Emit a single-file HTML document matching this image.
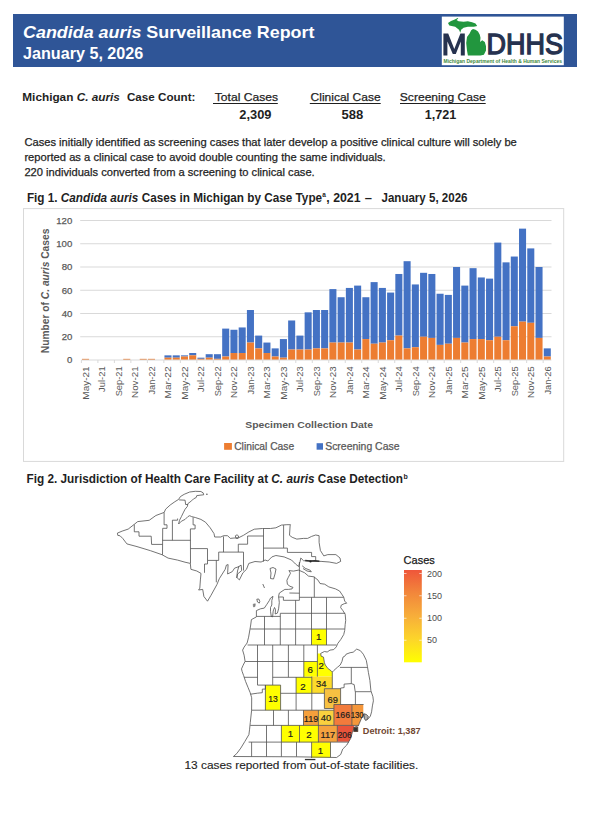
<!DOCTYPE html>
<html><head><meta charset="utf-8"><style>
html,body{margin:0;padding:0;background:#fff;}
svg{display:block;font-family:"Liberation Sans", sans-serif;}
</style></head><body>
<svg width="592" height="815" viewBox="0 0 592 815">
<rect x="0" y="0" width="592" height="815" fill="#ffffff"/>
<rect x="13" y="14" width="564" height="53" fill="#2F5597"/>
<text x="23" y="38.4" font-size="17" font-weight="bold" fill="#ffffff" textLength="291.5" lengthAdjust="spacingAndGlyphs"><tspan font-style="italic">Candida auris</tspan> Surveillance Report</text>
<text x="23.0" y="58.7" font-size="16.6" font-weight="bold" font-style="normal" fill="#ffffff" text-anchor="start" textLength="120.3" lengthAdjust="spacingAndGlyphs" >January 5, 2026</text>
<rect x="441.8" y="16.6" width="122" height="48.6" fill="#ffffff"/>
<path d="M443.4,55.5 L443.4,33.6 L448.2,33.6 L454.3,49 L460.4,33.6 L464.8,33.6 L464.8,55.5 L460.8,55.5 L460.8,41.5 L455.8,54 L452.8,54 L447.4,41.5 L447.4,55.5 Z" fill="#26324F"/>
<polygon points="448.0,23.0 451.0,20.9 454.8,19.6 457.7,18.0 458.3,18.6 456.5,20.0 458.6,21.3 463.6,21.8 467.9,21.3 472.1,22.2 475.5,23.4 477.2,26.0 473.8,26.8 467.9,26.8 463.6,27.7 461.1,29.8 460.3,32.7 459.0,29.8 455.2,26.8 449.3,25.6" fill="#22963E"/>
<polygon points="473.0,28.9 475.5,29.8 478.0,31.5 479.7,34.4 480.5,37.8 480.1,42.0 482.2,40.3 484.8,42.0 486.0,46.3 486.0,50.5 483.9,54.7 480.5,55.5 467.9,55.5 467.0,50.5 466.2,42.9 467.0,37.0 469.6,33.6 471.2,30.2" fill="#22963E"/>
<text x="486.6" y="54.2" font-size="29.6" font-weight="normal" stroke="#26324F" stroke-width="1.3" fill="#26324F" textLength="76.5" lengthAdjust="spacingAndGlyphs">DHHS</text>
<text x="443.5" y="63.0" font-size="5.2" font-weight="bold" fill="#3F8A3C" textLength="118.5" lengthAdjust="spacingAndGlyphs">Michigan Department of Health &amp; Human Services</text>
<text x="22.3" y="100.9" font-size="11.6" font-weight="bold" fill="#1f1f1f" textLength="97.6" lengthAdjust="spacingAndGlyphs">Michigan <tspan font-style="italic">C. auris</tspan></text>
<text x="126.9" y="100.9" font-size="11.6" font-weight="bold" fill="#1f1f1f" textLength="68.6" lengthAdjust="spacingAndGlyphs">Case Count:</text>
<text x="214.8" y="101.0" font-size="11.7" font-weight="normal" font-style="normal" fill="#1f1f1f" stroke="#1f1f1f" stroke-width="0.25" text-anchor="start" textLength="63.2" lengthAdjust="spacingAndGlyphs" >Total Cases</text>
<text x="310.6" y="101.0" font-size="11.7" font-weight="normal" font-style="normal" fill="#1f1f1f" stroke="#1f1f1f" stroke-width="0.25" text-anchor="start" textLength="70.0" lengthAdjust="spacingAndGlyphs" >Clinical Case</text>
<text x="399.8" y="101.0" font-size="11.7" font-weight="normal" font-style="normal" fill="#1f1f1f" stroke="#1f1f1f" stroke-width="0.25" text-anchor="start" textLength="86.0" lengthAdjust="spacingAndGlyphs" >Screening Case</text>
<rect x="213" y="103" width="64.8" height="1" fill="#1f1f1f"/>
<rect x="309.8" y="103" width="70.9" height="1" fill="#1f1f1f"/>
<rect x="400" y="103" width="85.7" height="1" fill="#1f1f1f"/>
<text x="239.3" y="118.7" font-size="12" font-weight="bold" font-style="normal" fill="#1f1f1f" text-anchor="start" textLength="32.2" lengthAdjust="spacingAndGlyphs" >2,309</text>
<text x="341.4" y="118.7" font-size="12" font-weight="bold" font-style="normal" fill="#1f1f1f" text-anchor="start" textLength="21.8" lengthAdjust="spacingAndGlyphs" >588</text>
<text x="424.8" y="118.7" font-size="12" font-weight="bold" font-style="normal" fill="#1f1f1f" text-anchor="start" textLength="31.6" lengthAdjust="spacingAndGlyphs" >1,721</text>
<text x="24.4" y="146.2" font-size="10.75" font-weight="normal" font-style="normal" fill="#1f1f1f" stroke="#1f1f1f" stroke-width="0.25" text-anchor="start" textLength="492.4" lengthAdjust="spacingAndGlyphs" >Cases initially identified as screening cases that later develop a positive clinical culture will solely be</text>
<text x="24.4" y="161.0" font-size="10.75" font-weight="normal" font-style="normal" fill="#1f1f1f" stroke="#1f1f1f" stroke-width="0.25" text-anchor="start" textLength="361.2" lengthAdjust="spacingAndGlyphs" >reported as a clinical case to avoid double counting the same individuals.</text>
<text x="24.4" y="175.7" font-size="10.75" font-weight="normal" font-style="normal" fill="#1f1f1f" stroke="#1f1f1f" stroke-width="0.25" text-anchor="start" textLength="290.3" lengthAdjust="spacingAndGlyphs" >220 individuals converted from a screening to clinical case.</text>
<text x="26.9" y="201.6" font-size="11.9" font-weight="bold" fill="#1f1f1f" textLength="295.2" lengthAdjust="spacingAndGlyphs">Fig 1. <tspan font-style="italic">Candida auris</tspan> Cases in Michigan by Case Type</text>
<text x="322.2" y="197" font-size="6.5" font-weight="bold" fill="#1f1f1f">a</text>
<text x="326.3" y="201.6" font-size="11.9" font-weight="bold" fill="#1f1f1f" textLength="34.2" lengthAdjust="spacingAndGlyphs">, 2021</text>
<text x="364.8" y="201.6" font-size="11.9" font-weight="bold" fill="#1f1f1f" textLength="7.2" lengthAdjust="spacingAndGlyphs">–</text>
<text x="381.5" y="201.6" font-size="11.9" font-weight="bold" fill="#1f1f1f" textLength="86" lengthAdjust="spacingAndGlyphs">January 5, 2026</text>
<rect x="23.5" y="208.6" width="540.2" height="252.8" fill="none" stroke="#D9D9D9" stroke-width="1"/>
<text x="72.3" y="363.4" font-size="9.6" font-weight="normal" font-style="normal" fill="#595959" stroke="#595959" stroke-width="0.25" text-anchor="end" >0</text>
<rect x="80.2" y="336.25" width="471.3" height="1" fill="#D9D9D9"/>
<text x="72.3" y="340.1" font-size="9.6" font-weight="normal" font-style="normal" fill="#595959" stroke="#595959" stroke-width="0.25" text-anchor="end" >20</text>
<rect x="80.2" y="313.00" width="471.3" height="1" fill="#D9D9D9"/>
<text x="72.3" y="316.9" font-size="9.6" font-weight="normal" font-style="normal" fill="#595959" stroke="#595959" stroke-width="0.25" text-anchor="end" >40</text>
<rect x="80.2" y="289.75" width="471.3" height="1" fill="#D9D9D9"/>
<text x="72.3" y="293.6" font-size="9.6" font-weight="normal" font-style="normal" fill="#595959" stroke="#595959" stroke-width="0.25" text-anchor="end" >60</text>
<rect x="80.2" y="266.50" width="471.3" height="1" fill="#D9D9D9"/>
<text x="72.3" y="270.4" font-size="9.6" font-weight="normal" font-style="normal" fill="#595959" stroke="#595959" stroke-width="0.25" text-anchor="end" >80</text>
<rect x="80.2" y="243.25" width="471.3" height="1" fill="#D9D9D9"/>
<text x="72.3" y="247.2" font-size="9.6" font-weight="normal" font-style="normal" fill="#595959" stroke="#595959" stroke-width="0.25" text-anchor="end" >100</text>
<rect x="80.2" y="220.00" width="471.3" height="1" fill="#D9D9D9"/>
<text x="72.3" y="223.9" font-size="9.6" font-weight="normal" font-style="normal" fill="#595959" stroke="#595959" stroke-width="0.25" text-anchor="end" >120</text>
<rect x="82.00" y="358.84" width="7.05" height="1.16" fill="#ED7D31"/>
<rect x="123.23" y="358.84" width="7.05" height="1.16" fill="#ED7D31"/>
<rect x="139.72" y="358.84" width="7.05" height="1.16" fill="#ED7D31"/>
<rect x="147.96" y="358.84" width="7.05" height="1.16" fill="#ED7D31"/>
<rect x="164.46" y="355.35" width="7.05" height="2.33" fill="#4472C4"/>
<rect x="164.46" y="357.68" width="7.05" height="2.33" fill="#ED7D31"/>
<rect x="172.70" y="355.35" width="7.05" height="2.33" fill="#4472C4"/>
<rect x="172.70" y="357.68" width="7.05" height="2.33" fill="#ED7D31"/>
<rect x="180.95" y="355.35" width="7.05" height="1.16" fill="#4472C4"/>
<rect x="180.95" y="356.51" width="7.05" height="3.49" fill="#ED7D31"/>
<rect x="189.19" y="353.02" width="7.05" height="2.33" fill="#4472C4"/>
<rect x="189.19" y="355.35" width="7.05" height="4.65" fill="#ED7D31"/>
<rect x="197.44" y="357.68" width="7.05" height="1.16" fill="#4472C4"/>
<rect x="197.44" y="358.84" width="7.05" height="1.16" fill="#ED7D31"/>
<rect x="205.68" y="354.19" width="7.05" height="3.49" fill="#4472C4"/>
<rect x="205.68" y="357.68" width="7.05" height="2.33" fill="#ED7D31"/>
<rect x="213.93" y="354.19" width="7.05" height="4.65" fill="#4472C4"/>
<rect x="213.93" y="358.84" width="7.05" height="1.16" fill="#ED7D31"/>
<rect x="222.18" y="328.61" width="7.05" height="27.90" fill="#4472C4"/>
<rect x="222.18" y="356.51" width="7.05" height="3.49" fill="#ED7D31"/>
<rect x="230.42" y="329.77" width="7.05" height="23.25" fill="#4472C4"/>
<rect x="230.42" y="353.02" width="7.05" height="6.98" fill="#ED7D31"/>
<rect x="238.67" y="327.45" width="7.05" height="25.58" fill="#4472C4"/>
<rect x="238.67" y="353.02" width="7.05" height="6.98" fill="#ED7D31"/>
<rect x="246.91" y="310.01" width="7.05" height="32.55" fill="#4472C4"/>
<rect x="246.91" y="342.56" width="7.05" height="17.44" fill="#ED7D31"/>
<rect x="255.16" y="335.59" width="7.05" height="12.79" fill="#4472C4"/>
<rect x="255.16" y="348.38" width="7.05" height="11.62" fill="#ED7D31"/>
<rect x="263.40" y="342.56" width="7.05" height="10.46" fill="#4472C4"/>
<rect x="263.40" y="353.02" width="7.05" height="6.98" fill="#ED7D31"/>
<rect x="271.65" y="348.38" width="7.05" height="8.14" fill="#4472C4"/>
<rect x="271.65" y="356.51" width="7.05" height="3.49" fill="#ED7D31"/>
<rect x="279.89" y="339.07" width="7.05" height="18.60" fill="#4472C4"/>
<rect x="279.89" y="357.68" width="7.05" height="2.33" fill="#ED7D31"/>
<rect x="288.14" y="320.48" width="7.05" height="29.06" fill="#4472C4"/>
<rect x="288.14" y="349.54" width="7.05" height="10.46" fill="#ED7D31"/>
<rect x="296.39" y="335.59" width="7.05" height="13.95" fill="#4472C4"/>
<rect x="296.39" y="349.54" width="7.05" height="10.46" fill="#ED7D31"/>
<rect x="304.63" y="312.34" width="7.05" height="37.20" fill="#4472C4"/>
<rect x="304.63" y="349.54" width="7.05" height="10.46" fill="#ED7D31"/>
<rect x="312.88" y="310.01" width="7.05" height="38.36" fill="#4472C4"/>
<rect x="312.88" y="348.38" width="7.05" height="11.62" fill="#ED7D31"/>
<rect x="321.12" y="310.01" width="7.05" height="38.36" fill="#4472C4"/>
<rect x="321.12" y="348.38" width="7.05" height="11.62" fill="#ED7D31"/>
<rect x="329.37" y="289.09" width="7.05" height="53.48" fill="#4472C4"/>
<rect x="329.37" y="342.56" width="7.05" height="17.44" fill="#ED7D31"/>
<rect x="337.61" y="297.23" width="7.05" height="45.34" fill="#4472C4"/>
<rect x="337.61" y="342.56" width="7.05" height="17.44" fill="#ED7D31"/>
<rect x="345.86" y="287.93" width="7.05" height="54.64" fill="#4472C4"/>
<rect x="345.86" y="342.56" width="7.05" height="17.44" fill="#ED7D31"/>
<rect x="354.11" y="285.60" width="7.05" height="63.94" fill="#4472C4"/>
<rect x="354.11" y="349.54" width="7.05" height="10.46" fill="#ED7D31"/>
<rect x="362.35" y="297.23" width="7.05" height="41.85" fill="#4472C4"/>
<rect x="362.35" y="339.07" width="7.05" height="20.93" fill="#ED7D31"/>
<rect x="370.60" y="282.11" width="7.05" height="61.61" fill="#4472C4"/>
<rect x="370.60" y="343.73" width="7.05" height="16.28" fill="#ED7D31"/>
<rect x="378.84" y="287.93" width="7.05" height="54.64" fill="#4472C4"/>
<rect x="378.84" y="342.56" width="7.05" height="17.44" fill="#ED7D31"/>
<rect x="387.09" y="292.57" width="7.05" height="47.66" fill="#4472C4"/>
<rect x="387.09" y="340.24" width="7.05" height="19.76" fill="#ED7D31"/>
<rect x="395.33" y="273.98" width="7.05" height="61.61" fill="#4472C4"/>
<rect x="395.33" y="335.59" width="7.05" height="24.41" fill="#ED7D31"/>
<rect x="403.58" y="261.19" width="7.05" height="87.19" fill="#4472C4"/>
<rect x="403.58" y="348.38" width="7.05" height="11.62" fill="#ED7D31"/>
<rect x="411.82" y="284.44" width="7.05" height="62.78" fill="#4472C4"/>
<rect x="411.82" y="347.21" width="7.05" height="12.79" fill="#ED7D31"/>
<rect x="420.07" y="272.81" width="7.05" height="63.94" fill="#4472C4"/>
<rect x="420.07" y="336.75" width="7.05" height="23.25" fill="#ED7D31"/>
<rect x="428.32" y="273.98" width="7.05" height="63.94" fill="#4472C4"/>
<rect x="428.32" y="337.91" width="7.05" height="22.09" fill="#ED7D31"/>
<rect x="436.56" y="293.74" width="7.05" height="51.15" fill="#4472C4"/>
<rect x="436.56" y="344.89" width="7.05" height="15.11" fill="#ED7D31"/>
<rect x="444.81" y="294.90" width="7.05" height="48.83" fill="#4472C4"/>
<rect x="444.81" y="343.73" width="7.05" height="16.28" fill="#ED7D31"/>
<rect x="453.05" y="267.00" width="7.05" height="70.91" fill="#4472C4"/>
<rect x="453.05" y="337.91" width="7.05" height="22.09" fill="#ED7D31"/>
<rect x="461.30" y="285.60" width="7.05" height="56.96" fill="#4472C4"/>
<rect x="461.30" y="342.56" width="7.05" height="17.44" fill="#ED7D31"/>
<rect x="469.54" y="268.16" width="7.05" height="70.91" fill="#4472C4"/>
<rect x="469.54" y="339.07" width="7.05" height="20.93" fill="#ED7D31"/>
<rect x="477.79" y="277.46" width="7.05" height="61.61" fill="#4472C4"/>
<rect x="477.79" y="339.07" width="7.05" height="20.93" fill="#ED7D31"/>
<rect x="486.04" y="278.62" width="7.05" height="61.61" fill="#4472C4"/>
<rect x="486.04" y="340.24" width="7.05" height="19.76" fill="#ED7D31"/>
<rect x="494.28" y="242.59" width="7.05" height="94.16" fill="#4472C4"/>
<rect x="494.28" y="336.75" width="7.05" height="23.25" fill="#ED7D31"/>
<rect x="502.53" y="262.35" width="7.05" height="77.89" fill="#4472C4"/>
<rect x="502.53" y="340.24" width="7.05" height="19.76" fill="#ED7D31"/>
<rect x="510.77" y="256.54" width="7.05" height="69.75" fill="#4472C4"/>
<rect x="510.77" y="326.29" width="7.05" height="33.71" fill="#ED7D31"/>
<rect x="519.02" y="228.64" width="7.05" height="93.00" fill="#4472C4"/>
<rect x="519.02" y="321.64" width="7.05" height="38.36" fill="#ED7D31"/>
<rect x="527.26" y="248.40" width="7.05" height="74.40" fill="#4472C4"/>
<rect x="527.26" y="322.80" width="7.05" height="37.20" fill="#ED7D31"/>
<rect x="535.51" y="267.00" width="7.05" height="70.91" fill="#4472C4"/>
<rect x="535.51" y="337.91" width="7.05" height="22.09" fill="#ED7D31"/>
<rect x="543.75" y="348.38" width="7.05" height="8.14" fill="#4472C4"/>
<rect x="543.75" y="356.51" width="7.05" height="3.49" fill="#ED7D31"/>
<rect x="81.4" y="359.5" width="470.0" height="1" fill="#D9D9D9"/>
<rect x="80.90" y="360" width="1" height="3" fill="#D9D9D9"/>
<rect x="97.39" y="360" width="1" height="3" fill="#D9D9D9"/>
<rect x="113.88" y="360" width="1" height="3" fill="#D9D9D9"/>
<rect x="130.37" y="360" width="1" height="3" fill="#D9D9D9"/>
<rect x="146.86" y="360" width="1" height="3" fill="#D9D9D9"/>
<rect x="163.36" y="360" width="1" height="3" fill="#D9D9D9"/>
<rect x="179.85" y="360" width="1" height="3" fill="#D9D9D9"/>
<rect x="196.34" y="360" width="1" height="3" fill="#D9D9D9"/>
<rect x="212.83" y="360" width="1" height="3" fill="#D9D9D9"/>
<rect x="229.32" y="360" width="1" height="3" fill="#D9D9D9"/>
<rect x="245.81" y="360" width="1" height="3" fill="#D9D9D9"/>
<rect x="262.30" y="360" width="1" height="3" fill="#D9D9D9"/>
<rect x="278.79" y="360" width="1" height="3" fill="#D9D9D9"/>
<rect x="295.29" y="360" width="1" height="3" fill="#D9D9D9"/>
<rect x="311.78" y="360" width="1" height="3" fill="#D9D9D9"/>
<rect x="328.27" y="360" width="1" height="3" fill="#D9D9D9"/>
<rect x="344.76" y="360" width="1" height="3" fill="#D9D9D9"/>
<rect x="361.25" y="360" width="1" height="3" fill="#D9D9D9"/>
<rect x="377.74" y="360" width="1" height="3" fill="#D9D9D9"/>
<rect x="394.23" y="360" width="1" height="3" fill="#D9D9D9"/>
<rect x="410.72" y="360" width="1" height="3" fill="#D9D9D9"/>
<rect x="427.22" y="360" width="1" height="3" fill="#D9D9D9"/>
<rect x="443.71" y="360" width="1" height="3" fill="#D9D9D9"/>
<rect x="460.20" y="360" width="1" height="3" fill="#D9D9D9"/>
<rect x="476.69" y="360" width="1" height="3" fill="#D9D9D9"/>
<rect x="493.18" y="360" width="1" height="3" fill="#D9D9D9"/>
<rect x="509.67" y="360" width="1" height="3" fill="#D9D9D9"/>
<rect x="526.16" y="360" width="1" height="3" fill="#D9D9D9"/>
<rect x="542.65" y="360" width="1" height="3" fill="#D9D9D9"/>
<text transform="translate(88.82,399.67) rotate(-90)" x="0" y="0" font-size="9.4" fill="#595959" textLength="33.27" lengthAdjust="spacingAndGlyphs">May-21</text>
<text transform="translate(105.31,391.88) rotate(-90)" x="0" y="0" font-size="9.4" fill="#595959" textLength="25.48" lengthAdjust="spacingAndGlyphs">Jul-21</text>
<text transform="translate(121.81,396.34) rotate(-90)" x="0" y="0" font-size="9.4" fill="#595959" textLength="29.94" lengthAdjust="spacingAndGlyphs">Sep-21</text>
<text transform="translate(138.30,397.90) rotate(-90)" x="0" y="0" font-size="9.4" fill="#595959" textLength="31.50" lengthAdjust="spacingAndGlyphs">Nov-21</text>
<text transform="translate(154.79,394.61) rotate(-90)" x="0" y="0" font-size="9.4" fill="#595959" textLength="28.21" lengthAdjust="spacingAndGlyphs">Jan-22</text>
<text transform="translate(171.28,398.53) rotate(-90)" x="0" y="0" font-size="9.4" fill="#595959" textLength="32.13" lengthAdjust="spacingAndGlyphs">Mar-22</text>
<text transform="translate(187.77,399.67) rotate(-90)" x="0" y="0" font-size="9.4" fill="#595959" textLength="33.27" lengthAdjust="spacingAndGlyphs">May-22</text>
<text transform="translate(204.26,391.88) rotate(-90)" x="0" y="0" font-size="9.4" fill="#595959" textLength="25.48" lengthAdjust="spacingAndGlyphs">Jul-22</text>
<text transform="translate(220.75,396.34) rotate(-90)" x="0" y="0" font-size="9.4" fill="#595959" textLength="29.94" lengthAdjust="spacingAndGlyphs">Sep-22</text>
<text transform="translate(237.24,397.90) rotate(-90)" x="0" y="0" font-size="9.4" fill="#595959" textLength="31.50" lengthAdjust="spacingAndGlyphs">Nov-22</text>
<text transform="translate(253.74,394.61) rotate(-90)" x="0" y="0" font-size="9.4" fill="#595959" textLength="28.21" lengthAdjust="spacingAndGlyphs">Jan-23</text>
<text transform="translate(270.23,398.53) rotate(-90)" x="0" y="0" font-size="9.4" fill="#595959" textLength="32.13" lengthAdjust="spacingAndGlyphs">Mar-23</text>
<text transform="translate(286.72,399.67) rotate(-90)" x="0" y="0" font-size="9.4" fill="#595959" textLength="33.27" lengthAdjust="spacingAndGlyphs">May-23</text>
<text transform="translate(303.21,391.88) rotate(-90)" x="0" y="0" font-size="9.4" fill="#595959" textLength="25.48" lengthAdjust="spacingAndGlyphs">Jul-23</text>
<text transform="translate(319.70,396.34) rotate(-90)" x="0" y="0" font-size="9.4" fill="#595959" textLength="29.94" lengthAdjust="spacingAndGlyphs">Sep-23</text>
<text transform="translate(336.19,397.90) rotate(-90)" x="0" y="0" font-size="9.4" fill="#595959" textLength="31.50" lengthAdjust="spacingAndGlyphs">Nov-23</text>
<text transform="translate(352.68,394.61) rotate(-90)" x="0" y="0" font-size="9.4" fill="#595959" textLength="28.21" lengthAdjust="spacingAndGlyphs">Jan-24</text>
<text transform="translate(369.17,398.53) rotate(-90)" x="0" y="0" font-size="9.4" fill="#595959" textLength="32.13" lengthAdjust="spacingAndGlyphs">Mar-24</text>
<text transform="translate(385.66,399.67) rotate(-90)" x="0" y="0" font-size="9.4" fill="#595959" textLength="33.27" lengthAdjust="spacingAndGlyphs">May-24</text>
<text transform="translate(402.16,391.88) rotate(-90)" x="0" y="0" font-size="9.4" fill="#595959" textLength="25.48" lengthAdjust="spacingAndGlyphs">Jul-24</text>
<text transform="translate(418.65,396.34) rotate(-90)" x="0" y="0" font-size="9.4" fill="#595959" textLength="29.94" lengthAdjust="spacingAndGlyphs">Sep-24</text>
<text transform="translate(435.14,397.90) rotate(-90)" x="0" y="0" font-size="9.4" fill="#595959" textLength="31.50" lengthAdjust="spacingAndGlyphs">Nov-24</text>
<text transform="translate(451.63,394.61) rotate(-90)" x="0" y="0" font-size="9.4" fill="#595959" textLength="28.21" lengthAdjust="spacingAndGlyphs">Jan-25</text>
<text transform="translate(468.12,398.53) rotate(-90)" x="0" y="0" font-size="9.4" fill="#595959" textLength="32.13" lengthAdjust="spacingAndGlyphs">Mar-25</text>
<text transform="translate(484.61,399.67) rotate(-90)" x="0" y="0" font-size="9.4" fill="#595959" textLength="33.27" lengthAdjust="spacingAndGlyphs">May-25</text>
<text transform="translate(501.10,391.88) rotate(-90)" x="0" y="0" font-size="9.4" fill="#595959" textLength="25.48" lengthAdjust="spacingAndGlyphs">Jul-25</text>
<text transform="translate(517.59,396.34) rotate(-90)" x="0" y="0" font-size="9.4" fill="#595959" textLength="29.94" lengthAdjust="spacingAndGlyphs">Sep-25</text>
<text transform="translate(534.09,397.90) rotate(-90)" x="0" y="0" font-size="9.4" fill="#595959" textLength="31.50" lengthAdjust="spacingAndGlyphs">Nov-25</text>
<text transform="translate(550.58,394.61) rotate(-90)" x="0" y="0" font-size="9.4" fill="#595959" textLength="28.21" lengthAdjust="spacingAndGlyphs">Jan-26</text>
<text transform="translate(49.3,353.2) rotate(-90)" x="0" y="0" font-size="10.75" font-weight="bold" fill="#595959" textLength="124.6" lengthAdjust="spacingAndGlyphs">Number of <tspan font-style="italic">C. auris</tspan> Cases</text>
<text x="245.2" y="428.4" font-size="9.9" font-weight="bold" font-style="normal" fill="#595959" text-anchor="start" textLength="127.8" lengthAdjust="spacingAndGlyphs" >Specimen Collection Date</text>
<rect x="224.1" y="443" width="7.8" height="6.8" fill="#ED7D31"/>
<text x="234.2" y="449.7" font-size="10.6" font-weight="normal" font-style="normal" fill="#595959" stroke="#595959" stroke-width="0.25" text-anchor="start" textLength="60.0" lengthAdjust="spacingAndGlyphs" >Clinical Case</text>
<rect x="316.6" y="443.2" width="6.4" height="6.5" fill="#4472C4"/>
<text x="325.2" y="449.7" font-size="10.6" font-weight="normal" font-style="normal" fill="#595959" stroke="#595959" stroke-width="0.25" text-anchor="start" textLength="74.3" lengthAdjust="spacingAndGlyphs" >Screening Case</text>
<text x="26.5" y="482.8" font-size="12.1" font-weight="bold" fill="#1f1f1f" textLength="376.5" lengthAdjust="spacingAndGlyphs">Fig 2. Jurisdiction of Health Care Facility at <tspan font-style="italic">C. auris</tspan> Case Detection</text>
<text x="403.5" y="478.5" font-size="7" font-weight="bold" font-style="normal" fill="#1f1f1f" text-anchor="start" >b</text>
<polygon points="311.5,629.0 326.5,629.0 326.5,645.0 311.5,645.0" fill="#FFFF00"/>
<polygon points="303.8,661.6 317.4,661.6 317.4,676.7 303.8,676.7" fill="#FFFF00"/>
<polygon points="317.4,653.4 320.7,653.4 321.1,656.2 323.5,657.1 324.4,662.7 325.3,665.0 328.1,668.7 330.9,670.6 332.3,672.0 332.3,676.6 317.4,676.6" fill="#FFFF00"/>
<polygon points="296.1,677.2 311.8,677.2 311.8,693.3 296.1,693.3" fill="#FFFF00"/>
<polygon points="311.8,676.5 332.3,676.5 332.3,688.7 324.4,688.7 324.4,693.3 311.8,693.3" fill="#FCDB2B"/>
<polygon points="265.4,685.1 280.6,685.1 280.6,710.2 265.4,710.2" fill="#FFFF00"/>
<polygon points="324.4,688.7 340.6,688.7 340.6,704.5 333.9,704.5 333.9,708.5 324.4,708.5" fill="#F7C142"/>
<polygon points="333.9,704.5 351.9,704.5 351.9,725.4 333.9,725.4" fill="#F27B3C"/>
<polygon points="351.9,704.5 363.3,704.5 363.3,714.2 362.7,716.0 361.0,719.5 359.2,723.7 358.5,725.4 351.9,725.4" fill="#F5973B"/>
<polygon points="303.5,710.2 318.4,710.2 318.4,725.4 303.5,725.4" fill="#F5A03C"/>
<polygon points="318.4,710.2 333.9,710.2 333.9,725.4 318.4,725.4" fill="#F9D03F"/>
<polygon points="281.4,725.4 299.5,725.4 299.5,742.2 281.4,742.2" fill="#FFFF00"/>
<polygon points="299.5,725.4 318.4,725.4 318.4,742.2 299.5,742.2" fill="#FFFF00"/>
<polygon points="318.4,725.4 337.3,725.4 337.3,742.0 318.4,742.0" fill="#F5A23F"/>
<polygon points="337.3,725.4 354.5,725.4 352.2,732.8 350.8,738.2 348.8,741.8 337.3,741.8" fill="#E9533A"/>
<polygon points="311.6,742.2 330.5,742.2 330.5,757.4 311.6,757.8" fill="#FFFF00"/>
<polygon points="117.4,533.1 122.2,531.1 128.2,529.1 134.3,524.3 137.7,521.6 149.2,520.3 155.9,515.5 164.2,512.4 165.6,509.2 170.2,505.0 174.9,501.7 178.6,499.4 180.4,496.6 184.2,494.3 189.7,492.0 195.3,491.3 200.9,491.5 203.2,492.9 203.7,494.8 200.0,495.2 196.7,495.7 196.2,497.5 193.5,498.9 191.6,500.8 187.9,503.6 187.4,506.4 185.1,509.2 183.2,512.9 181.4,516.6 179.5,520.3 178.6,524.0 181.4,521.2 185.1,519.4 187.9,516.6 189.7,515.7 191.6,516.6 195.3,517.5 200.9,519.4 205.5,522.2 210.2,527.8 214.0,533.6 214.7,537.0 220.8,537.0 223.5,535.7 227.6,535.7 230.3,538.4 234.1,538.0 238.1,538.0 243.5,535.3 248.9,531.9 254.3,529.2 262.4,528.5 270.5,528.5 275.9,527.8 281.4,525.1 286.8,524.7 290.5,524.7 290.1,525.8 289.5,535.3 292.2,537.3 296.8,539.1 303.5,538.4 307.6,538.4 311.6,536.4 315.7,535.0 319.1,535.7 319.1,542.4 320.4,550.5 323.8,555.9 327.8,554.6 335.9,554.6 340.0,558.0 340.7,561.4 336.6,563.4 329.2,562.0 321.1,561.4 310.3,561.1 303.5,560.7 300.8,558.0 300.1,561.4 298.6,566.5 295.5,564.0 291.5,560.0 284.1,556.9 275.9,555.5 271.9,556.9 267.8,561.0 265.1,560.0 261.1,562.0 255.0,561.5 248.8,563.4 246.5,569.3 242.9,572.8 239.4,579.9 237.0,577.6 237.6,574.0 241.7,570.5 241.1,565.1 238.2,566.9 234.6,568.1 232.3,571.6 227.6,574.0 228.1,564.6 226.4,565.1 225.2,569.3 219.3,578.7 216.9,584.6 211.0,595.3 207.5,601.2 203.9,596.5 202.7,589.4 198.6,590.0 199.8,588.2 200.4,579.9 201.0,573.4 196.8,571.0 190.9,569.3 190.3,563.4 185.0,562.2 177.6,560.1 168.1,558.1 162.0,554.7 150.5,550.7 137.0,546.6 126.9,543.9 122.8,538.5 120.1,535.8 117.8,535.4" fill="none" stroke="#505050" stroke-width="0.8" stroke-linejoin="round"/>
<polygon points="298.6,570.1 304.5,572.7 308.5,576.1 313.9,576.8 318.0,580.1 320.0,583.5 324.7,584.2 328.8,586.9 335.5,588.9 339.6,591.0 341.7,594.1 343.7,597.1 344.7,601.1 346.7,603.2 344.2,603.7 341.2,605.2 340.7,607.7 342.7,610.3 345.2,614.3 345.7,620.4 345.2,624.4 344.7,630.5 343.7,634.6 340.7,639.6 337.6,643.7 336.3,646.9 333.7,649.6 330.0,650.1 327.2,652.0 324.4,651.5 320.7,653.4 321.1,656.2 323.5,657.1 324.4,662.7 325.3,665.0 328.1,668.7 330.9,670.6 332.3,672.0 333.7,670.6 337.4,667.3 340.2,665.0 342.0,661.3 343.0,657.1 344.8,656.2 346.1,654.2 350.1,652.7 353.2,652.2 356.7,649.1 360.3,650.6 363.3,654.2 366.3,660.3 367.4,666.3 368.4,672.4 369.9,680.5 370.9,690.7 372.9,696.7 373.4,700.8 372.4,705.9 371.6,711.8 370.4,716.0 368.7,718.3 366.5,720.0 364.5,718.0 363.3,714.2 362.7,716.0 361.0,719.5 359.2,723.7 358.3,726.0 354.5,727.0 352.2,732.8 350.8,738.2 348.8,741.6 346.8,745.0 342.7,749.1 340.7,754.5 336.6,757.5 296.5,756.8 233.4,756.5 236.8,753.5 240.8,748.1 244.9,741.4 248.9,734.6 249.6,729.2 250.3,722.4 251.6,710.3 251.7,697.8 250.2,692.7 248.1,687.6 245.6,681.5 243.6,675.5 242.1,671.4 241.5,668.9 243.1,665.3 245.1,661.3 244.1,655.2 242.6,650.1 244.1,647.1 247.1,643.0 248.6,637.2 250.0,629.1 250.7,625.0 251.4,619.6 256.4,616.9 256.4,610.6 260.5,608.8 264.3,608.1 266.8,604.4 269.3,600.6 270.5,598.1 273.0,596.3 271.8,600.6 271.8,605.0 270.5,607.5 270.5,611.3 271.3,616.5 272.6,616.8 273.2,611.0 274.5,607.5 275.5,609.5 275.2,614.0 277.4,613.1 278.6,608.8 279.3,602.5 278.6,596.3 279.3,593.1 283.0,590.6 284.9,589.4 288.4,589.4 292.0,588.9 293.0,587.4 290.0,586.3 287.4,584.3 286.9,580.3 288.4,577.2 290.5,573.2 288.9,570.6 293.5,571.1" fill="none" stroke="#505050" stroke-width="0.8" stroke-linejoin="round"/>
<polyline points="179.1,499.9 185.1,500.2 185.6,504.5 187.9,504.5" fill="none" stroke="#505050" stroke-width="0.8" stroke-linejoin="round"/>
<polyline points="134.3,524.5 134.3,531.8 139.0,531.8 139.0,536.2 151.2,536.2 151.6,544.4 162.5,544.4" fill="none" stroke="#505050" stroke-width="0.8" stroke-linejoin="round"/>
<polyline points="164.1,512.5 164.1,524.8 167.0,524.8 167.0,528.3 162.7,528.3 162.5,554.8" fill="none" stroke="#505050" stroke-width="0.8" stroke-linejoin="round"/>
<polyline points="162.5,540.3 190.5,540.3" fill="none" stroke="#505050" stroke-width="0.8" stroke-linejoin="round"/>
<polyline points="172.4,540.3 172.4,520.2 177.6,520.2 177.6,518.5" fill="none" stroke="#505050" stroke-width="0.8" stroke-linejoin="round"/>
<polyline points="193.1,517.4 193.1,524.9 195.1,524.9 195.1,528.9 190.4,528.9 190.5,563.4" fill="none" stroke="#505050" stroke-width="0.8" stroke-linejoin="round"/>
<polyline points="190.5,548.6 207.5,548.6 207.5,560.4 218.7,560.4 218.7,552.1 243.5,552.1 243.5,570.5" fill="none" stroke="#505050" stroke-width="0.8" stroke-linejoin="round"/>
<polyline points="207.5,560.4 207.5,564.0 204.5,564.0 204.5,572.8" fill="none" stroke="#505050" stroke-width="0.8" stroke-linejoin="round"/>
<polyline points="216.3,560.4 216.3,582.3" fill="none" stroke="#505050" stroke-width="0.8" stroke-linejoin="round"/>
<polyline points="223.5,536.4 223.5,552.1" fill="none" stroke="#505050" stroke-width="0.8" stroke-linejoin="round"/>
<polyline points="238.3,552.1 238.3,544.2 247.6,544.2 247.6,536.0 263.5,536.0" fill="none" stroke="#505050" stroke-width="0.8" stroke-linejoin="round"/>
<polyline points="263.5,528.5 263.5,561.6" fill="none" stroke="#505050" stroke-width="0.8" stroke-linejoin="round"/>
<polyline points="283.6,525.1 283.6,548.1 287.4,548.1 287.4,552.4 311.6,552.4 311.6,556.6 315.7,556.6 315.7,561.0" fill="none" stroke="#505050" stroke-width="0.8" stroke-linejoin="round"/>
<polyline points="263.5,548.1 283.6,548.1" fill="none" stroke="#505050" stroke-width="0.8" stroke-linejoin="round"/>
<polyline points="299.4,562.0 299.4,600.3" fill="none" stroke="#505050" stroke-width="0.8" stroke-linejoin="round"/>
<polyline points="289.4,593.0 299.4,593.2" fill="none" stroke="#505050" stroke-width="0.8" stroke-linejoin="round"/>
<polyline points="299.4,597.3 343.7,597.3" fill="none" stroke="#505050" stroke-width="0.8" stroke-linejoin="round"/>
<polyline points="314.3,576.8 314.3,597.3" fill="none" stroke="#505050" stroke-width="0.8" stroke-linejoin="round"/>
<polyline points="278.5,597.0 283.4,597.0 283.4,600.3 299.4,600.3" fill="none" stroke="#505050" stroke-width="0.8" stroke-linejoin="round"/>
<polyline points="295.6,600.3 295.6,645.0" fill="none" stroke="#505050" stroke-width="0.8" stroke-linejoin="round"/>
<polyline points="311.5,597.3 311.5,645.0" fill="none" stroke="#505050" stroke-width="0.8" stroke-linejoin="round"/>
<polyline points="326.5,597.3 326.5,645.0" fill="none" stroke="#505050" stroke-width="0.8" stroke-linejoin="round"/>
<polyline points="256.6,616.4 280.3,616.4" fill="none" stroke="#505050" stroke-width="0.8" stroke-linejoin="round"/>
<polyline points="280.3,613.3 345.2,613.3" fill="none" stroke="#505050" stroke-width="0.8" stroke-linejoin="round"/>
<polyline points="280.3,613.3 280.3,645.0" fill="none" stroke="#505050" stroke-width="0.8" stroke-linejoin="round"/>
<polyline points="264.5,616.4 264.5,645.0" fill="none" stroke="#505050" stroke-width="0.8" stroke-linejoin="round"/>
<polyline points="250.2,629.0 344.7,629.0" fill="none" stroke="#505050" stroke-width="0.8" stroke-linejoin="round"/>
<polyline points="247.6,645.0 336.4,645.0" fill="none" stroke="#505050" stroke-width="0.8" stroke-linejoin="round"/>
<polyline points="257.5,645.0 257.5,685.1" fill="none" stroke="#505050" stroke-width="0.8" stroke-linejoin="round"/>
<polyline points="272.7,645.0 272.7,685.1" fill="none" stroke="#505050" stroke-width="0.8" stroke-linejoin="round"/>
<polyline points="288.4,645.0 288.4,677.2" fill="none" stroke="#505050" stroke-width="0.8" stroke-linejoin="round"/>
<polyline points="303.8,645.0 303.8,677.1" fill="none" stroke="#505050" stroke-width="0.8" stroke-linejoin="round"/>
<polyline points="317.4,645.0 317.4,676.6" fill="none" stroke="#505050" stroke-width="0.8" stroke-linejoin="round"/>
<polyline points="245.1,661.5 317.4,661.5" fill="none" stroke="#505050" stroke-width="0.8" stroke-linejoin="round"/>
<polyline points="244.1,677.3 257.5,677.3" fill="none" stroke="#505050" stroke-width="0.8" stroke-linejoin="round"/>
<polyline points="272.7,677.3 311.8,677.3" fill="none" stroke="#505050" stroke-width="0.8" stroke-linejoin="round"/>
<polyline points="257.5,685.1 280.6,685.1" fill="none" stroke="#505050" stroke-width="0.8" stroke-linejoin="round"/>
<polyline points="265.4,685.1 265.4,689.1 262.3,689.1 262.3,692.7 257.3,693.2 250.5,694.2" fill="none" stroke="#505050" stroke-width="0.8" stroke-linejoin="round"/>
<polyline points="280.6,685.1 280.6,710.2" fill="none" stroke="#505050" stroke-width="0.8" stroke-linejoin="round"/>
<polyline points="265.4,685.1 265.4,710.2" fill="none" stroke="#505050" stroke-width="0.8" stroke-linejoin="round"/>
<polyline points="280.6,693.3 324.4,693.3" fill="none" stroke="#505050" stroke-width="0.8" stroke-linejoin="round"/>
<polyline points="296.1,677.1 296.1,710.2" fill="none" stroke="#505050" stroke-width="0.8" stroke-linejoin="round"/>
<polyline points="311.8,676.5 311.8,710.2" fill="none" stroke="#505050" stroke-width="0.8" stroke-linejoin="round"/>
<polyline points="324.4,688.7 340.6,688.7" fill="none" stroke="#505050" stroke-width="0.8" stroke-linejoin="round"/>
<polyline points="324.4,688.7 324.4,708.5" fill="none" stroke="#505050" stroke-width="0.8" stroke-linejoin="round"/>
<polyline points="332.3,672.0 332.3,688.7" fill="none" stroke="#505050" stroke-width="0.8" stroke-linejoin="round"/>
<polyline points="339.9,667.4 367.4,667.4" fill="none" stroke="#505050" stroke-width="0.8" stroke-linejoin="round"/>
<polyline points="351.3,667.4 351.3,683.6 344.1,684.1 344.1,687.6 340.6,688.1" fill="none" stroke="#505050" stroke-width="0.8" stroke-linejoin="round"/>
<polyline points="351.3,683.6 354.2,684.6 355.2,691.7 370.9,691.7" fill="none" stroke="#505050" stroke-width="0.8" stroke-linejoin="round"/>
<polyline points="355.4,691.7 355.4,704.5" fill="none" stroke="#505050" stroke-width="0.8" stroke-linejoin="round"/>
<polyline points="340.6,688.1 340.6,704.5" fill="none" stroke="#505050" stroke-width="0.8" stroke-linejoin="round"/>
<polyline points="324.4,708.5 333.9,708.5" fill="none" stroke="#505050" stroke-width="0.8" stroke-linejoin="round"/>
<polyline points="333.9,704.5 363.6,704.5" fill="none" stroke="#505050" stroke-width="0.8" stroke-linejoin="round"/>
<polyline points="251.6,710.2 333.9,710.2" fill="none" stroke="#505050" stroke-width="0.8" stroke-linejoin="round"/>
<polyline points="333.9,704.5 333.9,725.4" fill="none" stroke="#505050" stroke-width="0.8" stroke-linejoin="round"/>
<polyline points="351.9,704.5 351.9,725.4" fill="none" stroke="#505050" stroke-width="0.8" stroke-linejoin="round"/>
<polyline points="273.5,710.2 273.5,725.4" fill="none" stroke="#505050" stroke-width="0.8" stroke-linejoin="round"/>
<polyline points="288.4,710.2 288.4,725.4" fill="none" stroke="#505050" stroke-width="0.8" stroke-linejoin="round"/>
<polyline points="303.5,710.2 303.5,725.4" fill="none" stroke="#505050" stroke-width="0.8" stroke-linejoin="round"/>
<polyline points="318.4,710.2 318.4,742.3" fill="none" stroke="#505050" stroke-width="0.8" stroke-linejoin="round"/>
<polyline points="250.3,725.4 358.2,725.4" fill="none" stroke="#505050" stroke-width="0.8" stroke-linejoin="round"/>
<polyline points="266.5,725.4 266.5,756.6" fill="none" stroke="#505050" stroke-width="0.8" stroke-linejoin="round"/>
<polyline points="281.4,725.4 281.4,756.6" fill="none" stroke="#505050" stroke-width="0.8" stroke-linejoin="round"/>
<polyline points="299.5,725.4 299.5,742.3" fill="none" stroke="#505050" stroke-width="0.8" stroke-linejoin="round"/>
<polyline points="337.3,725.4 337.3,741.6" fill="none" stroke="#505050" stroke-width="0.8" stroke-linejoin="round"/>
<polyline points="248.6,742.1 349.0,742.1" fill="none" stroke="#505050" stroke-width="0.8" stroke-linejoin="round"/>
<polyline points="251.6,742.1 251.6,756.5" fill="none" stroke="#505050" stroke-width="0.8" stroke-linejoin="round"/>
<polyline points="296.5,742.1 296.5,756.7" fill="none" stroke="#505050" stroke-width="0.8" stroke-linejoin="round"/>
<polyline points="311.6,742.1 311.6,758.0" fill="none" stroke="#505050" stroke-width="0.8" stroke-linejoin="round"/>
<polyline points="330.5,742.1 330.5,757.3" fill="none" stroke="#505050" stroke-width="0.8" stroke-linejoin="round"/>
<path d="M270,568.5 L273,567.5 L276,569 L275,574 L273.5,579 L270.5,578.5 L271,573 Z" fill="none" stroke="#505050" stroke-width="0.8" stroke-linejoin="round"/>
<path d="M256.8,599.2 L258.8,599 L259.8,601.5 L259.3,603.1 L257.5,602 Z" fill="none" stroke="#505050" stroke-width="0.8" stroke-linejoin="round"/>
<path d="M253.2,604.2 L255.3,603.8 L255,606.5 L253.5,606.9 Z" fill="#888" stroke="#777" stroke-width="0.6"/>
<polyline points="305.2,560.5 310,561 315,560.9 319.4,561.2" fill="none" stroke="#333" stroke-width="1.6"/>
<circle cx="310.5" cy="561.5" r="1.1" fill="#222"/>
<polyline points="302.2,565.8 305.2,568.3 310.3,570.3 311.3,571.8 307,571 303,568.5" fill="none" stroke="#505050" stroke-width="0.8" stroke-linejoin="round"/>
<path d="M235.3,535.8 L237,534.8 L238.6,536 L238,538.3 L236,538.2 Z" fill="none" stroke="#505050" stroke-width="0.8" stroke-linejoin="round"/>
<rect x="304.9" y="758.9" width="10.5" height="1.3" fill="#333"/>
<circle cx="206.9" cy="494.3" r="0.7" fill="#444"/>
<path d="M262.8,584 L264.5,588 M239,566 L237.5,571 L236.6,578" fill="none" stroke="#505050" stroke-width="0.8" stroke-linejoin="round"/>
<polygon points="364,713.8 366.5,714.5 368.3,716.5 367.6,719.3 365.5,720.4 364.3,718.3" fill="#b0b0b0" stroke="#555" stroke-width="0.9"/>
<text x="318.6" y="640.0" font-size="9.7" fill="#1e1e1e" stroke="#1e1e1e" stroke-width="0.2" text-anchor="middle">1</text>
<text x="310.2" y="673.0" font-size="9.7" fill="#1e1e1e" stroke="#1e1e1e" stroke-width="0.2" text-anchor="middle">6</text>
<text x="321.3" y="669.3" font-size="9.7" fill="#1e1e1e" stroke="#1e1e1e" stroke-width="0.2" text-anchor="middle">2</text>
<text x="303.0" y="689.5" font-size="9.7" fill="#1e1e1e" stroke="#1e1e1e" stroke-width="0.2" text-anchor="middle">2</text>
<text x="321.3" y="686.8" font-size="9.7" fill="#1e1e1e" stroke="#1e1e1e" stroke-width="0.2" text-anchor="middle" textLength="10.4" lengthAdjust="spacingAndGlyphs">34</text>
<text x="273.1" y="702.1" font-size="9.7" fill="#1e1e1e" stroke="#1e1e1e" stroke-width="0.2" text-anchor="middle" textLength="9.5" lengthAdjust="spacingAndGlyphs">13</text>
<text x="332.7" y="703.1" font-size="9.7" fill="#1e1e1e" stroke="#1e1e1e" stroke-width="0.2" text-anchor="middle" textLength="10.4" lengthAdjust="spacingAndGlyphs">69</text>
<text x="342.8" y="718.3" font-size="9.7" fill="#1e1e1e" stroke="#1e1e1e" stroke-width="0.2" text-anchor="middle" textLength="14.6" lengthAdjust="spacingAndGlyphs">166</text>
<text x="357.2" y="718.3" font-size="9.7" fill="#1e1e1e" stroke="#1e1e1e" stroke-width="0.2" text-anchor="middle" textLength="13.0" lengthAdjust="spacingAndGlyphs">130</text>
<text x="311.0" y="722.1" font-size="9.7" fill="#1e1e1e" stroke="#1e1e1e" stroke-width="0.2" text-anchor="middle" textLength="14.4" lengthAdjust="spacingAndGlyphs">119</text>
<text x="325.9" y="720.9" font-size="9.7" fill="#1e1e1e" stroke="#1e1e1e" stroke-width="0.2" text-anchor="middle" textLength="10.4" lengthAdjust="spacingAndGlyphs">40</text>
<text x="290.4" y="737.4" font-size="9.7" fill="#1e1e1e" stroke="#1e1e1e" stroke-width="0.2" text-anchor="middle">1</text>
<text x="309.0" y="737.6" font-size="9.7" fill="#1e1e1e" stroke="#1e1e1e" stroke-width="0.2" text-anchor="middle">2</text>
<text x="327.8" y="737.6" font-size="9.7" fill="#1e1e1e" stroke="#1e1e1e" stroke-width="0.2" text-anchor="middle" textLength="14.6" lengthAdjust="spacingAndGlyphs">117</text>
<text x="344.7" y="738.0" font-size="9.7" fill="#1e1e1e" stroke="#1e1e1e" stroke-width="0.2" text-anchor="middle" textLength="14.0" lengthAdjust="spacingAndGlyphs">206</text>
<text x="320.5" y="754.1" font-size="9.7" fill="#1e1e1e" stroke="#1e1e1e" stroke-width="0.2" text-anchor="middle">1</text>
<rect x="353.8" y="727.6" width="4" height="4" fill="#333333" stroke="#5a4030" stroke-width="0.8"/>
<text x="362.8" y="733.7" font-size="9" font-weight="bold" fill="#714631" textLength="57.8" lengthAdjust="spacingAndGlyphs">Detroit: 1,387</text>
<defs><linearGradient id="lg" x1="0" y1="0" x2="0" y2="1"><stop offset="0" stop-color="#EF563A"/><stop offset="0.25" stop-color="#F2873B"/><stop offset="0.5" stop-color="#F7AE3A"/><stop offset="0.75" stop-color="#FCD52A"/><stop offset="1" stop-color="#FFFF00"/></linearGradient></defs>
<text x="403.6" y="563.5" font-size="11.3" font-weight="normal" stroke="#1a1a1a" stroke-width="0.25" fill="#1a1a1a" textLength="31.2" lengthAdjust="spacingAndGlyphs">Cases</text>
<rect x="404" y="570" width="17.8" height="92.3" fill="url(#lg)"/>
<text x="427.0" y="576.7" font-size="9.0" fill="#4D4D4D">200</text>
<rect x="404" y="573.1" width="2.5" height="0.8" fill="#ffffff" opacity="0.8"/>
<rect x="419.3" y="573.1" width="2.5" height="0.8" fill="#ffffff" opacity="0.8"/>
<text x="427.0" y="599.0" font-size="9.0" fill="#4D4D4D">150</text>
<rect x="404" y="595.4" width="2.5" height="0.8" fill="#ffffff" opacity="0.8"/>
<rect x="419.3" y="595.4" width="2.5" height="0.8" fill="#ffffff" opacity="0.8"/>
<text x="427.0" y="621.4" font-size="9.0" fill="#4D4D4D">100</text>
<rect x="404" y="617.8" width="2.5" height="0.8" fill="#ffffff" opacity="0.8"/>
<rect x="419.3" y="617.8" width="2.5" height="0.8" fill="#ffffff" opacity="0.8"/>
<text x="427.0" y="643.4" font-size="9.0" fill="#4D4D4D">50</text>
<rect x="404" y="639.8" width="2.5" height="0.8" fill="#ffffff" opacity="0.8"/>
<rect x="419.3" y="639.8" width="2.5" height="0.8" fill="#ffffff" opacity="0.8"/>
<text x="184.5" y="768.6" font-size="10.2" font-weight="normal" font-style="normal" fill="#1f1f1f" stroke="#1f1f1f" stroke-width="0.12" text-anchor="start" textLength="233.8" lengthAdjust="spacingAndGlyphs" >13 cases reported from out-of-state facilities.</text>
</svg>
</body></html>
